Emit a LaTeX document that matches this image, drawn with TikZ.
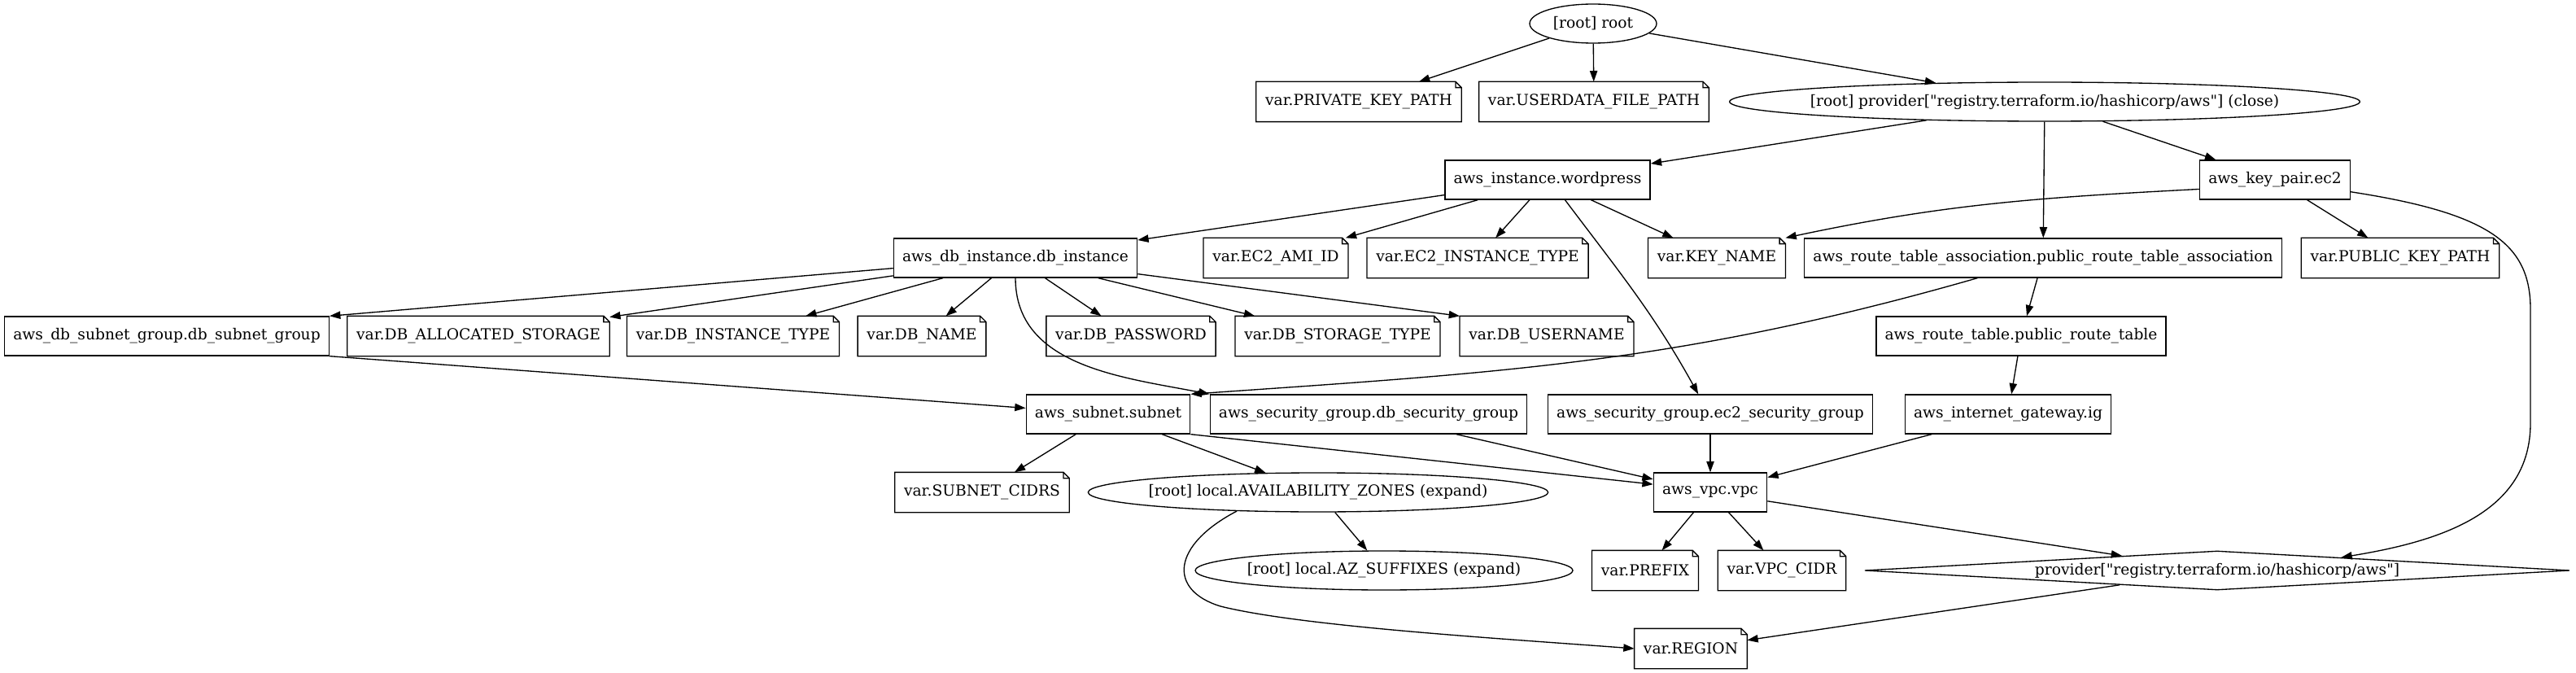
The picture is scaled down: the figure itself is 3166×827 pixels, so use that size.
\documentclass[tikz,border=0pt]{standalone}
\usepackage{fontspec}
\setmainfont{DejaVu Serif}[Ligatures=TeXOff]
\usepackage{tikz}
\usetikzlibrary{arrows.meta,shapes.geometric}

\begin{document}
\begin{tikzpicture}[x=0.75pt,y=-0.75pt,line width=1pt,>={Triangle[length=10pt,width=7pt]},
  every node/.style={font=\fontsize{14}{16}\selectfont},
  res/.style={draw,rectangle,minimum height=36pt,minimum width=54pt,inner xsep=8pt,inner ysep=0pt},
  varnote/.style={rectangle,minimum height=36pt,minimum width=54pt,inner xsep=8pt,inner ysep=0pt,
    append after command={\pgfextra{\draw ([xshift=-5.5pt]\tikzlastnode.north east) -- (\tikzlastnode.north west)
      -- (\tikzlastnode.south west) -- (\tikzlastnode.south east) -- ([yshift=-5.5pt]\tikzlastnode.north east) -- cycle
      ([xshift=-5.5pt]\tikzlastnode.north east) |- ([yshift=-5.5pt]\tikzlastnode.north east);}}},
  loc/.style={draw,ellipse,minimum height=36pt,inner xsep=-60pt,inner ysep=0pt},
  prov/.style={draw,diamond,aspect=17,minimum width=650pt,minimum height=36pt,inner sep=0pt}]
  \useasboundingbox (0,0) rectangle (3166,827);
  % nodes, row by row
  \node[loc,minimum width=117pt] (root) at (1958,29) {[root] root};
  \node[varnote] (pkpath) at (1670,125) {var.PRIVATE\_KEY\_PATH};
  \node[varnote] (udpath) at (1959,125) {var.USERDATA\_FILE\_PATH};
  \node[loc,minimum width=581pt] (pclose) at (2513,125) {[root] provider["registry.terraform.io/hashicorp/aws"] (close)};
  \node[res] (wp) at (1902,221) {aws\_instance.wordpress};
  \node[res] (keypair) at (2796,221) {aws\_key\_pair.ec2};
  \node[res] (dbi) at (1248,317) {aws\_db\_instance.db\_instance};
  \node[varnote] (amiid) at (1568,317) {var.EC2\_AMI\_ID};
  \node[varnote] (ec2type) at (1816,317) {var.EC2\_INSTANCE\_TYPE};
  \node[varnote] (keyname) at (2110,317) {var.KEY\_NAME};
  \node[res] (rta) at (2511,317) {aws\_route\_table\_association.public\_route\_table\_association};
  \node[varnote] (pubkey) at (2950,317) {var.PUBLIC\_KEY\_PATH};
  \node[res] (subgrp) at (205,413) {aws\_db\_subnet\_group.db\_subnet\_group};
  \node[varnote] (alloc) at (588,413) {var.DB\_ALLOCATED\_STORAGE};
  \node[varnote] (dbtype) at (901,413) {var.DB\_INSTANCE\_TYPE};
  \node[varnote] (dbname) at (1133,413) {var.DB\_NAME};
  \node[varnote] (dbpass) at (1390,413) {var.DB\_PASSWORD};
  \node[varnote] (dbstore) at (1644,413) {var.DB\_STORAGE\_TYPE};
  \node[varnote] (dbuser) at (1901,413) {var.DB\_USERNAME};
  \node[res] (rtable) at (2484,413) {aws\_route\_table.public\_route\_table};
  \node[res] (subnet) at (1362,509) {aws\_subnet.subnet};
  \node[res] (sgdb) at (1682,509) {aws\_security\_group.db\_security\_group};
  \node[res] (sgec2) at (2102,509) {aws\_security\_group.ec2\_security\_group};
  \node[res] (igw) at (2468,509) {aws\_internet\_gateway.ig};
  \node[varnote] (cidrs) at (1207,605) {var.SUBNET\_CIDRS};
  \node[loc,minimum width=424pt] (azs) at (1620,605) {[root] local.AVAILABILITY\_ZONES (expand)};
  \node[res] (vpc) at (2102,605) {aws\_vpc.vpc};
  \node[loc,minimum width=348pt] (azsuf) at (1701,701) {[root] local.AZ\_SUFFIXES (expand)};
  \node[varnote] (prefix) at (2022,701) {var.PREFIX};
  \node[varnote] (vpccidr) at (2190,701) {var.VPC\_CIDR};
  \node[prov] (provider) at (2725,701) {provider["registry.terraform.io/hashicorp/aws"]};
  \node[varnote] (region) at (2078,797) {var.REGION};
  % edges
  \draw[->] (root) -- (pkpath);
  \draw[->] (root) -- (udpath);
  \draw[->] (root) -- (pclose);
  \draw[->] (pclose) -- (wp);
  \draw[->] (pclose) -- (rta);
  \draw[->] (pclose) -- (keypair);
  \draw[->] (wp) -- (dbi);
  \draw[->] (wp) -- (amiid);
  \draw[->] (wp) -- (ec2type);
  \draw[->] (wp) -- (keyname);
  \draw[->] (wp.-49) to[out=-53,in=119] (sgec2.121);
  \draw[->] (keypair.187) to[out=183,in=12] (keyname.north east);
  \draw[->] (keypair) -- (pubkey);
  \draw[->] (keypair.-9) .. controls (3060,262) and (3110,300) .. (3110,380) -- (3110,520)
    .. controls (3110,630) and (3000,665) .. (provider.6);
  \draw[->] (rta) -- (rtable);
  \draw[->] (rta.197) to[out=196,in=4] (subnet.north east);
  \draw[->] (dbi) -- (subgrp.north east);
  \draw[->] (dbi) -- (alloc);
  \draw[->] (dbi) -- (dbtype);
  \draw[->] (dbi) -- (dbname);
  \draw[->] (dbi) -- (dbpass);
  \draw[->] (dbi) -- (dbstore);
  \draw[->] (dbi) -- (dbuser.north west);
  \draw[->] (dbi.south) to[out=-90,in=169] (sgdb.north west);
  \draw[->] (subgrp.south east) -- (subnet);
  \draw[->] (rtable) -- (igw);
  \draw[->] (subnet) -- (cidrs);
  \draw[->] (subnet) -- (azs);
  \draw[->] (subnet.south east) -- (vpc.172);
  \draw[->] (sgdb) -- (vpc);
  \draw[->] (sgec2) -- (vpc);
  \draw[->] (igw) -- (vpc);
  \draw[->] (azs) -- (azsuf);
  \draw[->] (azs.193) .. controls (1440,670) and (1435,725) .. (1500,745)
    .. controls (1600,770) and (1850,785) .. (region.west);
  \draw[->] (vpc) -- (prefix);
  \draw[->] (vpc) -- (vpccidr);
  \draw[->] (vpc) -- (provider);
  \draw[->] (provider) -- (region);
\end{tikzpicture}
\end{document}
